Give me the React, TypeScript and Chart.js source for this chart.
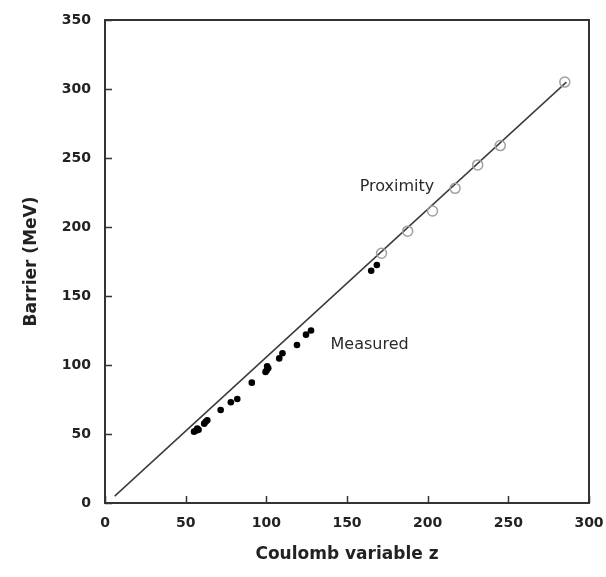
import React, { useEffect, useRef } from "react";
import { Chart, registerables } from "chart.js";

Chart.register(...registerables);

// Measured barriers (Coulomb variable z, barrier MeV)
const measuredX = [55.2, 56.5, 57.2, 58.0, 61.5, 62.4, 63.4, 71.7, 78.0, 82.0, 91.0, 99.5, 100.2, 101.2, 100.5, 108.0, 110.0, 119.0, 124.6, 127.7, 165.0, 168.5];
const measuredY = [51.7, 52.5, 54.0, 53.0, 57.5, 58.9, 60.0, 67.4, 73.0, 75.4, 87.2, 95.0, 96.0, 97.6, 99.0, 104.8, 108.5, 114.5, 122.0, 125.0, 168.3, 172.5];

// Proximity-model barriers
const proximityX = [171.4, 187.6, 203.0, 217.0, 231.0, 245.0, 285.0];
const proximityY = [181.0, 197.0, 211.6, 228.0, 245.0, 259.0, 305.0];

// Fit line end points
const fitX = [6, 286];
const fitY = [5, 305];

// Axis ticks
const xTicks = [0, 50, 100, 150, 200, 250, 300];
const yTicks = [0, 50, 100, 150, 200, 250, 300, 350];

// Annotations in data units
const annotationText = ["Proximity", "Measured"];
const annotationX = [181, 164];
const annotationY = [229, 114.5];

const AXIS_COLOR = "#333333";

const framePlugin = {
  id: "frameTicks",
  afterDraw(chart: any) {
    const { ctx, chartArea } = chart;
    const xs = chart.scales.x;
    const ys = chart.scales.y;
    ctx.save();
    ctx.strokeStyle = AXIS_COLOR;
    ctx.lineWidth = 2;
    ctx.strokeRect(chartArea.left, chartArea.top, chartArea.right - chartArea.left, chartArea.bottom - chartArea.top);
    const len = 7;
    ctx.beginPath();
    xTicks.forEach((v) => {
      const px = Math.round(xs.getPixelForValue(v)) + 0.5;
      ctx.moveTo(px, chartArea.bottom);
      ctx.lineTo(px, chartArea.bottom - len);
    });
    yTicks.forEach((v) => {
      const py = Math.round(ys.getPixelForValue(v)) + 0.5;
      ctx.moveTo(chartArea.left, py);
      ctx.lineTo(chartArea.left + len, py);
    });
    ctx.lineWidth = 1.5;
    ctx.stroke();

    ctx.fillStyle = "#2a2a2a";
    ctx.font = "16px 'DejaVu Sans'";
    ctx.textAlign = "center";
    ctx.textBaseline = "middle";
    annotationText.forEach((t, i) => {
      ctx.fillText(t, xs.getPixelForValue(annotationX[i]), ys.getPixelForValue(annotationY[i]));
    });
    ctx.restore();
  },
};

export default function App() {
  const canvasRef = useRef<HTMLCanvasElement | null>(null);

  useEffect(() => {
    if (!canvasRef.current) return;
    Chart.defaults.font.family = "'DejaVu Sans'";
    const chart = new Chart(canvasRef.current, {
      type: "scatter",
      data: {
        datasets: [
          {
            label: "Fit",
            data: fitX.map((x, i) => ({ x, y: fitY[i] })),
            showLine: true,
            borderColor: "#3a3a3a",
            borderWidth: 1.5,
            pointRadius: 0,
            order: 3,
          },
          {
            label: "Proximity",
            data: proximityX.map((x, i) => ({ x, y: proximityY[i] })),
            pointRadius: 5,
            pointBorderWidth: 1.5,
            borderColor: "#a0a0a0",
            backgroundColor: "rgba(255,255,255,0)",
            order: 2,
          },
          {
            label: "Measured",
            data: measuredX.map((x, i) => ({ x, y: measuredY[i] })),
            pointRadius: 3.3,
            pointBorderWidth: 0,
            borderColor: "#000000",
            backgroundColor: "#000000",
            order: 1,
          },
        ],
      },
      options: {
        animation: false,
        responsive: true,
        maintainAspectRatio: false,
        layout: { padding: { left: 0, top: 20, right: 17, bottom: 0 } },
        plugins: { legend: { display: false }, tooltip: { enabled: false } },
        scales: {
          x: {
            type: "linear",
            min: 0,
            max: 300,
            afterFit: (s: any) => {
              s.height = 74;
              s.paddingLeft = 0;
              s.paddingRight = 0;
            },
            afterBuildTicks: (s: any) => {
              s.ticks = xTicks.map((v) => ({ value: v }));
            },
            grid: { display: false, drawTicks: false },
            border: { display: false },
            ticks: {
              padding: 12,
              color: "#222222",
              font: { size: 14, weight: "bold" },
            },
            title: {
              display: true,
              text: "Coulomb variable z",
              color: "#222222",
              font: { size: 17, weight: "bold" },
              padding: { top: 0, bottom: 12 },
            },
          },
          y: {
            type: "linear",
            min: 0,
            max: 350,
            afterFit: (s: any) => {
              s.width = 105;
              s.paddingTop = 0;
              s.paddingBottom = 0;
            },
            afterBuildTicks: (s: any) => {
              s.ticks = yTicks.map((v) => ({ value: v }));
            },
            grid: { display: false, drawTicks: false },
            border: { display: false },
            ticks: {
              padding: 14,
              color: "#222222",
              font: { size: 14, weight: "bold" },
            },
            title: {
              display: true,
              text: "Barrier (MeV)",
              color: "#222222",
              font: { size: 17, weight: "bold" },
              padding: { top: 21, bottom: 0 },
            },
          },
        },
      },
      plugins: [framePlugin],
    });
    return () => chart.destroy();
  }, []);

  return (
    <div style={{ position: "absolute", left: 0, top: 0, width: 606, height: 577, background: "#ffffff" }}>
      <canvas ref={canvasRef} />
    </div>
  );
}
